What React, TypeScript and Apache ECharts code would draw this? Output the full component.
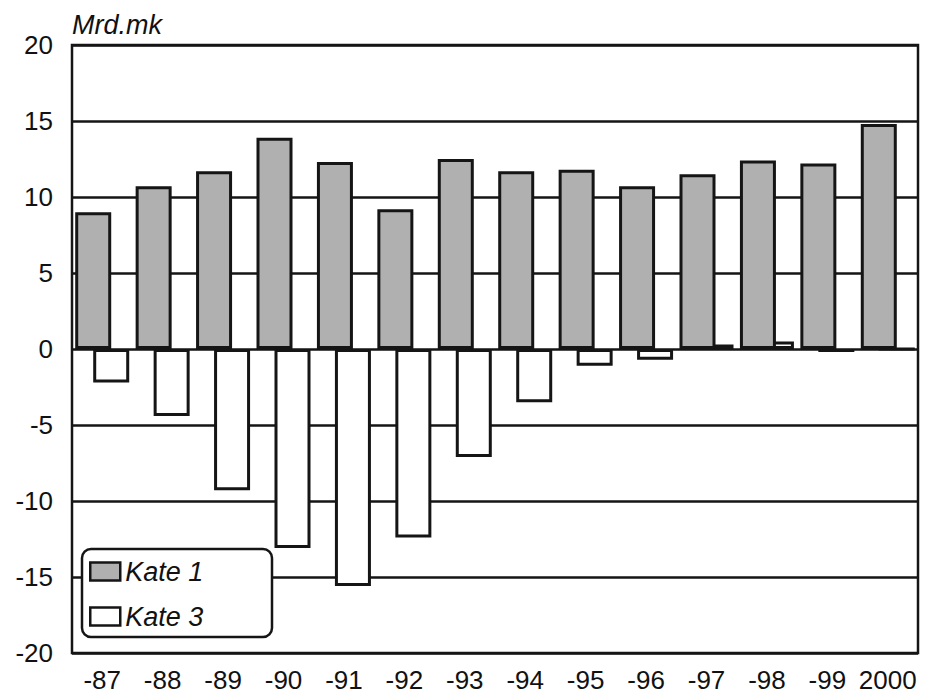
import React, { useEffect, useRef } from "react";
import * as echarts from "echarts";

const categories = ["-87", "-88", "-89", "-90", "-91", "-92", "-93", "-94", "-95", "-96", "-97", "-98", "-99", "2000"];
const kate1 = [9.0, 10.7, 11.7, 13.9, 12.3, 9.2, 12.5, 11.7, 11.8, 10.7, 11.5, 12.4, 12.2, 14.8];
const kate3 = [-2.2, -4.4, -9.3, -13.1, -15.6, -12.4, -7.1, -3.5, -1.1, -0.7, 0.3, 0.5, -0.2, 0];
const yMin = -20;
const yMax = 20;
const yStep = 5;
const unitLabel = "Mrd.mk";

const FONT = "'Liberation Sans', Arial, Helvetica, sans-serif";

export default function App() {
  const ref = useRef<HTMLDivElement>(null);
  useEffect(() => {
    if (!ref.current) return;
    const chart = echarts.init(ref.current, null, { renderer: "svg" });
    chart.setOption({
      animation: false,
      backgroundColor: "#ffffff",
      textStyle: { fontFamily: FONT, color: "#111" },
      grid: {
        left: 72,
        right: 10,
        top: 45,
        bottom: 43,
        show: true,
        borderColor: "#151515",
        borderWidth: 2.5,
        backgroundColor: "transparent",
      },
      graphic: [
        {
          type: "text",
          left: 72,
          top: 11,
          style: {
            text: unitLabel,
            fontFamily: FONT,
            fontSize: 27,
            fontStyle: "italic",
            fill: "#111",
          },
        },
        {
          type: "rect",
          z: 3,
          shape: { x: 82, y: 549, width: 190, height: 88, r: 9 },
          style: { fill: "#fff", stroke: "#151515", lineWidth: 2.5 },
        },
      ],
      legend: {
        z: 5,
        orient: "vertical",
        left: 89,
        top: 558,
        padding: 0,
        itemGap: 18,
        itemWidth: 30,
        itemHeight: 18,
        icon: "rect",
        textStyle: { fontFamily: FONT, fontSize: 27, fontStyle: "italic", color: "#111" },
        data: [
          { name: "Kate 1", itemStyle: { color: "#b0b0b0", borderColor: "#151515", borderWidth: 2.5 } },
          { name: "Kate 3", itemStyle: { color: "#ffffff", borderColor: "#151515", borderWidth: 2.5 } },
        ],
      },
      xAxis: {
        type: "category",
        data: categories,
        axisTick: { show: false },
        axisLine: { show: false },
        axisLabel: { fontFamily: FONT, fontSize: 26, color: "#111", margin: 14, interval: 0 },
      },
      yAxis: {
        type: "value",
        min: yMin,
        max: yMax,
        interval: yStep,
        axisLine: { show: false },
        axisTick: { show: false },
        axisLabel: { fontFamily: FONT, fontSize: 26, color: "#111", margin: 19 },
        splitLine: { show: true, lineStyle: { color: "#151515", width: 2.5 } },
      },
      series: [
        {
          name: "Kate 1",
          type: "bar",
          z: 3,
          data: kate1,
          barWidth: 36,
          barGap: "-50%",
          itemStyle: { color: "#b0b0b0", borderColor: "#151515", borderWidth: 3 },
        },
        {
          name: "Kate 3",
          type: "bar",
          z: 2,
          data: kate3,
          barWidth: 36,
          barGap: "-50%",
          itemStyle: { color: "#ffffff", borderColor: "#151515", borderWidth: 3 },
        },
      ],
    });
    return () => chart.dispose();
  }, []);
  return <div ref={ref} style={{ position: "fixed", left: 0, top: 0, width: 928, height: 696 }} />;
}
